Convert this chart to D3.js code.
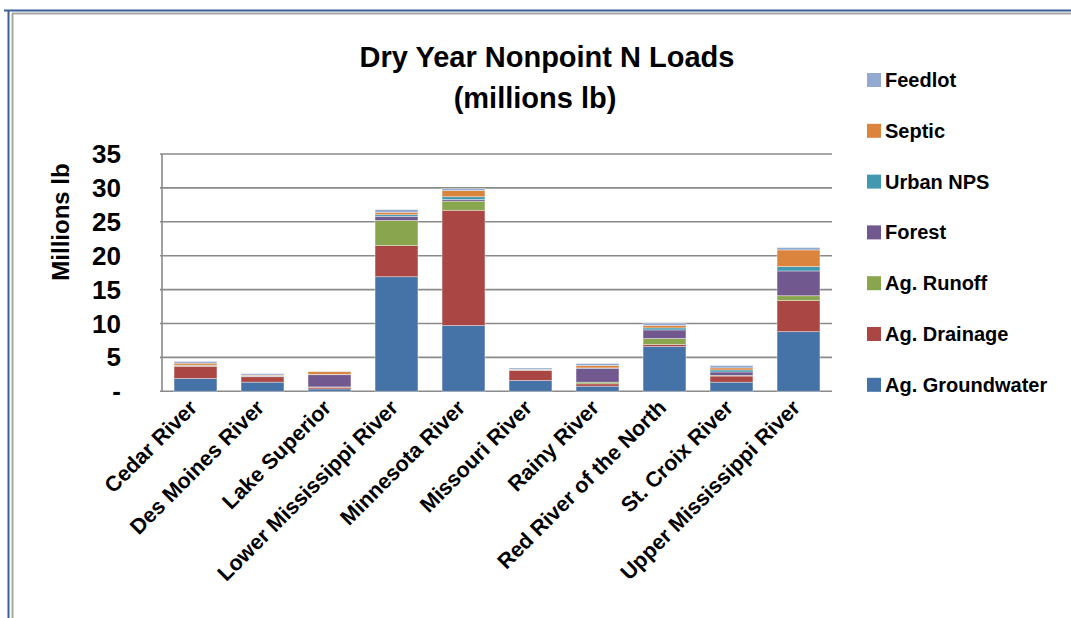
<!DOCTYPE html>
<html><head><meta charset="utf-8">
<script src="https://cdn.jsdelivr.net/npm/d3@7"></script>
<style>html,body{margin:0;padding:0;background:#fff;}svg{display:block;}</style>
</head><body>
<script>
const categories = ["Cedar River","Des Moines River","Lake Superior","Lower Mississippi River","Minnesota River","Missouri River","Rainy River","Red River of the North","St. Croix River","Upper Mississippi River"];
const seriesNames = ["Ag. Groundwater","Ag. Drainage","Ag. Runoff","Forest","Urban NPS","Septic","Feedlot"];
const groundwater = [1.9,1.35,0.35,16.9,9.7,1.6,0.75,6.6,1.35,8.8];
const drainage    = [1.8,0.8,0.25,4.6,17.0,1.5,0.35,0.3,0.9,4.6];
const runoff      = [0.05,0.05,0.05,3.7,1.35,0.03,0.25,0.9,0.1,0.7];
const forest      = [0.05,0.05,1.8,0.6,0.25,0.03,2.05,1.25,0.5,3.65];
const urban       = [0.05,0.05,0.05,0.25,0.4,0.03,0.05,0.3,0.3,0.65];
const septic      = [0.3,0.1,0.4,0.35,0.9,0.05,0.35,0.35,0.3,2.45];
const feedlot     = [0.25,0.2,0.05,0.4,0.3,0.2,0.3,0.35,0.35,0.35];
const yTicks = [0,5,10,15,20,25,30,35];
const yTickLabels = ["-","5","10","15","20","25","30","35"];
const colors = ["#4572A7","#AA4643","#89A54E","#71588F","#4198AF","#DB843D","#93A9CF"];

const seriesValues = [groundwater,drainage,runoff,forest,urban,septic,feedlot];
const rows = categories.map((c,i)=>{const r={cat:c}; seriesNames.forEach((s,j)=>r[s]=seriesValues[j][i]); return r;});

const W=1071,H=618;
const svg=d3.select("body").append("svg").attr("width",W).attr("height",H);
const FONT="'Liberation Sans', Arial, sans-serif";

// frame
svg.append("line").attr("x1",4).attr("x2",W).attr("y1",10.5).attr("y2",10.5).attr("stroke","#3b5f96").attr("stroke-width",2);
svg.append("line").attr("x1",8.5).attr("x2",8.5).attr("y1",10).attr("y2",H).attr("stroke","#3b5f96").attr("stroke-width",2);
svg.append("line").attr("x1",12).attr("x2",W).attr("y1",13.5).attr("y2",13.5).attr("stroke","#a6a6a6").attr("stroke-width",2);
svg.append("line").attr("x1",12.5).attr("x2",12.5).attr("y1",13).attr("y2",H).attr("stroke","#a6a6a6").attr("stroke-width",2);

const x=d3.scaleBand().domain(categories).range([162,832]).paddingInner(0.36).paddingOuter(0.18);
const y=d3.scaleLinear().domain([0,35]).range([391.3,154]);

// gridlines
svg.append("g").selectAll("line").data(yTicks).join("line")
  .attr("x1",160).attr("x2",832).attr("y1",d=>y(d)).attr("y2",d=>y(d))
  .attr("stroke","#8a8a8a").attr("stroke-width",1.6);
svg.append("line").attr("x1",162).attr("x2",162).attr("y1",y(35)).attr("y2",y(0)).attr("stroke","#8a8a8a").attr("stroke-width",1.6);

// y tick labels
svg.append("g").selectAll("text").data(yTicks).join("text")
  .attr("x",121).attr("y",d=>y(d)+9).attr("text-anchor","end")
  .attr("font-family",FONT).attr("font-weight","bold").attr("font-size",26)
  .text((d,i)=>yTickLabels[i]);

// stacked bars
const stack=d3.stack().keys(seriesNames)(rows);
svg.append("g").selectAll("g").data(stack).join("g").attr("fill",(d,i)=>colors[i])
  .selectAll("rect").data(d=>d).join("rect")
  .attr("x",d=>x(d.data.cat)).attr("width",x.bandwidth())
  .attr("y",d=>y(d[1])).attr("height",d=>Math.max(0,y(d[0])-y(d[1])))
  .attr("stroke","rgba(255,255,255,0.45)").attr("stroke-width",0.8);

// x labels
svg.append("g").selectAll("text").data(categories).join("text")
  .attr("transform",d=>`translate(${x(d)+x.bandwidth()/2+3},${409}) rotate(-45)`)
  .attr("text-anchor","end")
  .attr("font-family",FONT).attr("font-weight","bold").attr("font-size",21.5)
  .text(d=>d);

// title
svg.append("text").attr("x",547).attr("y",67).attr("text-anchor","middle")
  .attr("font-family",FONT).attr("font-weight","bold").attr("font-size",29)
  .text("Dry Year Nonpoint N Loads");
svg.append("text").attr("x",535).attr("y",108).attr("text-anchor","middle")
  .attr("font-family",FONT).attr("font-weight","bold").attr("font-size",29)
  .text("(millions lb)");

// y axis title
svg.append("text").attr("transform","translate(69,222) rotate(-90)").attr("text-anchor","middle")
  .attr("font-family",FONT).attr("font-weight","bold").attr("font-size",24)
  .text("Millions lb");

// legend (top = Feedlot)
const legendItems = seriesNames.map((s,i)=>({name:s,color:colors[i]})).reverse();
const lg=svg.append("g").selectAll("g").data(legendItems).join("g")
  .attr("transform",(d,i)=>`translate(867,${80+i*50.8})`);
lg.append("rect").attr("x",0).attr("y",-7).attr("width",14).attr("height",14).attr("fill",d=>d.color);
lg.append("text").attr("x",18).attr("y",7).attr("font-family",FONT).attr("font-weight","bold").attr("font-size",20).text(d=>d.name);
</script>
</body></html>
